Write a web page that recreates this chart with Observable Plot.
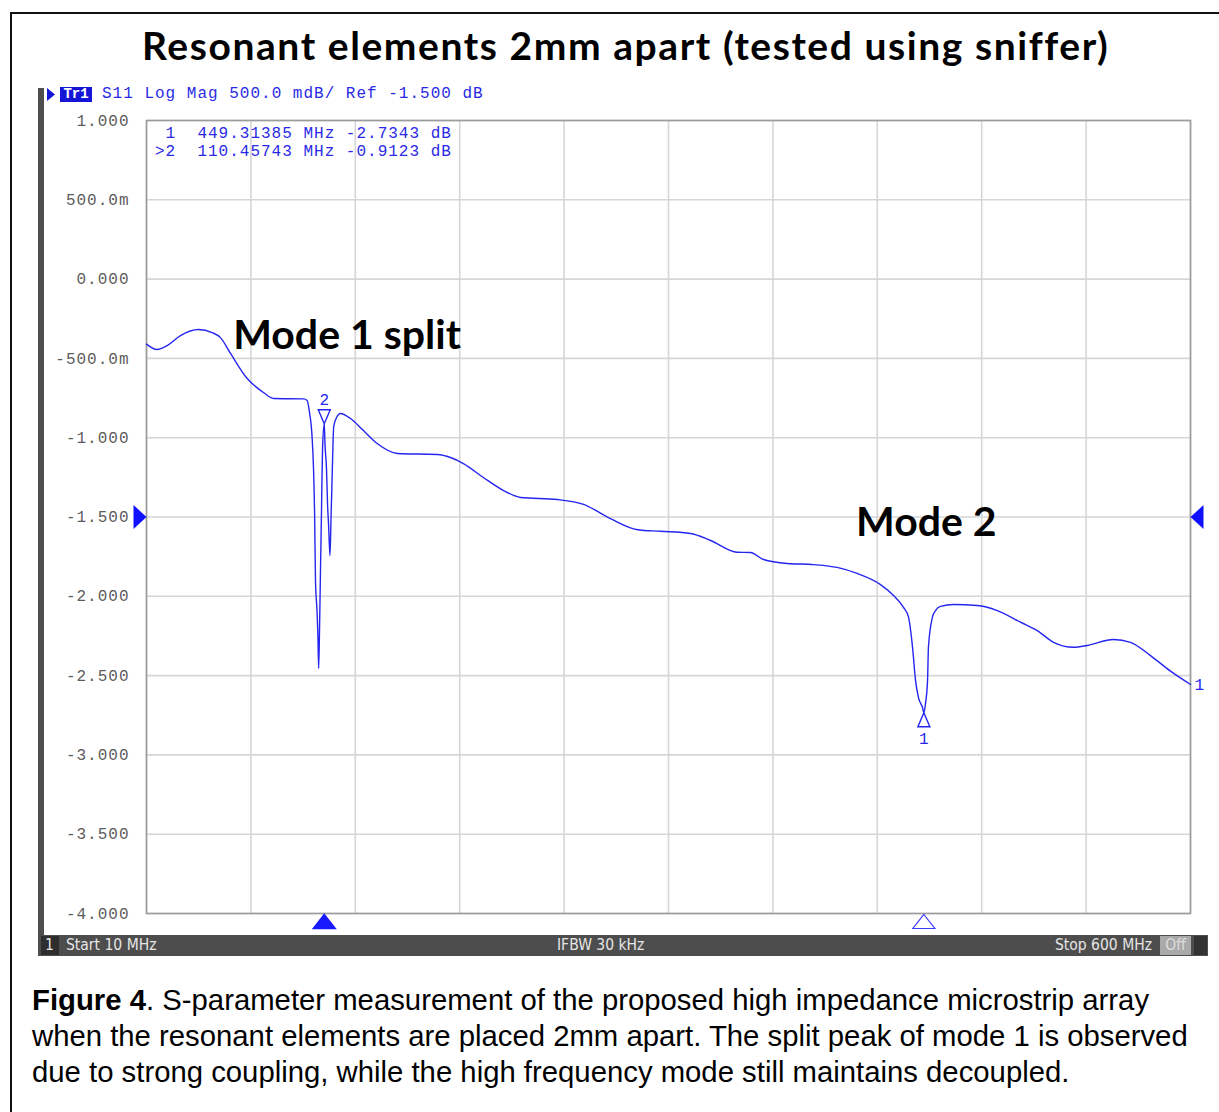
<!DOCTYPE html>
<html><head><meta charset="utf-8">
<script src="https://cdn.jsdelivr.net/npm/d3@7"></script>
<script src="https://cdn.jsdelivr.net/npm/@observablehq/plot@0.6"></script>
<style>
html,body{margin:0;padding:0;background:#fff;}
body{width:1219px;height:1112px;position:relative;overflow:hidden;}
.abs{position:absolute;white-space:pre;}
#border{position:absolute;left:10px;top:12px;width:1222px;height:1130px;border:2px solid #111;box-sizing:border-box;}
#title{left:142px;top:20px;font-family:Lato,"Open Sans",sans-serif;font-weight:700;font-size:39px;line-height:50px;color:#000;}
.mono{font-family:"Liberation Mono","DejaVu Sans Mono",monospace;font-size:16px;letter-spacing:1px;color:#2a2ae6;}
#hdr{left:102px;top:85px;line-height:18px;}
#tr1{left:60px;top:87px;width:32px;height:15px;background:#1515d8;color:#fff;font-family:"Liberation Mono",monospace;font-size:14px;font-weight:700;line-height:15px;text-align:center;}
#readout{left:155px;top:125px;line-height:18px;}
#leftbar{left:38px;top:88px;width:6px;height:868px;background:#4e4e4e;}
#status{left:40px;top:935px;width:1168px;height:21px;background:#4d4d4d;}
.st{font-family:"DejaVu Sans Condensed","Liberation Sans Narrow",sans-serif;font-stretch:condensed;font-size:15.5px;line-height:21px;color:#e6e6e6;top:935px;}
.cap{left:32px;font-family:"Liberation Sans",Arial,sans-serif;font-size:29.3px;line-height:36px;color:#000;}
#chart{position:absolute;left:0;top:0;}
g[aria-label="y-axis tick label"] text{letter-spacing:1px;}
</style></head>
<body>
<div id="border"></div>
<div id="chart"></div>
<div class="abs" id="title">Resonant elements 2mm apart (tested using sniffer)</div>
<div class="abs" id="leftbar"></div>
<svg class="abs" style="left:46px;top:87px" width="12" height="16"><path d="M1,1 L9,7.5 L1,14 Z" fill="#1515d8"/></svg>
<div class="abs" id="tr1">Tr1</div>
<div class="abs mono" id="hdr">S11 Log Mag 500.0 mdB/ Ref -1.500 dB</div>
<div class="abs mono" id="readout"></div>
<div class="abs" id="status"></div>
<div class="abs" style="left:41px;top:936px;width:18px;height:19px;background:#2e2e2e;"></div>
<div class="abs st" style="left:45px;">1</div>
<div class="abs st" style="left:66px;">Start 10 MHz</div>
<div class="abs st" style="left:557px;">IFBW 30 kHz</div>
<div class="abs st" id="stop" style="left:1048px;">Stop 600 MHz</div>
<div class="abs st" style="left:1160px;top:936px;width:31px;height:19px;line-height:19px;background:#a9a9a9;color:#dcdcdc;text-align:center;">Off</div>
<div class="abs" style="left:1194px;top:936px;width:13px;height:19px;background:#333;"></div>
<div class="abs cap" style="top:982px;"><b>Figure 4</b>. S-parameter measurement of the proposed high impedance microstrip array</div>
<div class="abs cap" style="top:1018px;">when the resonant elements are placed 2mm apart. The split peak of mode 1 is observed</div>
<div class="abs cap" style="top:1054px;">due to strong coupling, while the high frequency mode still maintains decoupled.</div>
<script>
// ---- data ----
const freqMHz = [10, 16.0, 21.7, 29.2, 39.4, 47.1, 51.8, 57.5, 66.9, 76.1, 81.8, 98.7, 100.8, 102.1, 103.6, 104.4, 105.0, 105.5, 106.4, 106.9, 107.3, 107.8, 108.3, 108.9, 109.5, 110.46, 110.9, 111.7, 112.3, 112.9, 113.7, 114.3, 114.9, 115.8, 117.4, 119.6, 125.3, 132.6, 140.4, 151.7, 174.3, 181.8, 189.1, 200.4, 211.8, 221.4, 242.3, 257.0, 272.2, 287.5, 300.5, 317.4, 328.8, 343.8, 351.3, 358.7, 372.1, 387.0, 400.3, 411.6, 424.8, 432.2, 437.8, 440.6, 442.9, 444.6, 446.3, 448.5, 449.31, 450.2, 451.4, 451.9, 454.2, 455.9, 458.7, 466.1, 479.5, 490.8, 503.9, 513.4, 522.6, 533.9, 541.6, 556.5, 566.1, 577.4, 588.7, 600];
const s11dB = [-0.41, -0.444, -0.419, -0.356, -0.318, -0.337, -0.369, -0.469, -0.627, -0.715, -0.753, -0.755, -0.765, -0.84, -1.0, -1.2, -1.48, -1.90, -2.10, -2.26, -2.455, -2.2, -1.856, -1.459, -1.062, -0.9123, -1.05, -1.188, -1.415, -1.55, -1.743, -1.5, -1.251, -0.93, -0.873, -0.847, -0.879, -0.955, -1.037, -1.10, -1.106, -1.125, -1.163, -1.251, -1.333, -1.377, -1.39, -1.42, -1.51, -1.58, -1.59, -1.604, -1.648, -1.722, -1.724, -1.768, -1.793, -1.80, -1.818, -1.856, -1.926, -1.995, -2.07, -2.13, -2.32, -2.53, -2.64, -2.70, -2.7343, -2.68, -2.53, -2.32, -2.13, -2.09, -2.064, -2.052, -2.058, -2.09, -2.163, -2.216, -2.29, -2.321, -2.31, -2.272, -2.29, -2.374, -2.472, -2.556];
const yTicks = [1, 0.5, 0, -0.5, -1, -1.5, -2, -2.5, -3, -3.5, -4];
const yTickLabels = ["1.000", "500.0m", "0.000", "-500.0m", "-1.000", "-1.500", "-2.000", "-2.500", "-3.000", "-3.500", "-4.000"];
const xGrid = [10, 69, 128, 187, 246, 305, 364, 423, 482, 541, 600];
const markerNames = ["1", "2"];
const markerFreq = [449.31385, 110.45743];
const markerDb = [-2.7343, -0.9123];
const refLevel = [-1.5];
const annotText = ["Mode 1 split", "Mode 2"];
const annotFreq = [59, 411];
const annotDb = [-0.36, -1.54];

document.getElementById("readout").textContent =
  markerNames.map((n, i) => (n === "2" ? ">" : " ") + n + "  " + markerFreq[i].toFixed(5) + " MHz " + markerDb[i].toFixed(4) + " dB").join("\n");

const trace = freqMHz.map((f, i) => ({f, db: s11dB[i]}));
const markers = markerNames.map((n, i) => ({n, f: markerFreq[i], db: markerDb[i]}));
const annots = annotText.map((t, i) => ({t, f: annotFreq[i], db: annotDb[i]}));
const BLUE = "#2525f0";
const sym = (pts) => ({draw(ctx) { ctx.moveTo(pts[0][0], pts[0][1]); for (const p of pts.slice(1)) ctx.lineTo(p[0], p[1]); ctx.closePath(); }});
const triDownTip = sym([[-6, -14], [6, -14], [0, 0]]);
const triUpTip = sym([[0, 0], [6, 14], [-6, 14]]);
const triBottom = sym([[0, 1], [11, 15], [-11, 15]]);
const refRight = sym([[-13, -12], [0, 0], [-13, 12]]);
const refLeft = sym([[13, -12], [0, 0], [13, 12]]);

const chart = Plot.plot({
  width: 1219, height: 960,
  marginLeft: 146, marginRight: 29, marginTop: 120, marginBottom: 47,
  x: {domain: [10, 600], axis: null, label: null},
  y: {domain: [-4, 1], axis: null, label: null},
  style: {fontFamily: "'Liberation Mono','DejaVu Sans Mono',monospace", fontSize: "16px", background: "transparent", overflow: "visible"},
  marks: [
    Plot.gridX(xGrid, {stroke: "#d6d6d6", strokeOpacity: 1, strokeWidth: 1.6}),
    Plot.gridY(yTicks, {stroke: "#d6d6d6", strokeOpacity: 1, strokeWidth: 1.6}),
    Plot.frame({stroke: "#9c9c9c", strokeWidth: 1.6}),
    Plot.axisY(yTicks, {label: null, tickSize: 0, tickPadding: 17, tickFormat: d => yTickLabels[yTicks.indexOf(d)], fill: "#5c5c5c"}),
    Plot.line(trace, {x: "f", y: "db", stroke: BLUE, strokeWidth: 1.4, curve: "monotone-x"}),
    Plot.dot(markers.filter(m => m.n === "2"), {x: "f", y: "db", symbol: triDownTip, fill: "none", stroke: BLUE, strokeWidth: 1.4}),
    Plot.dot(markers.filter(m => m.n === "1"), {x: "f", y: "db", symbol: triUpTip, fill: "none", stroke: BLUE, strokeWidth: 1.4}),
    Plot.text(markers.filter(m => m.n === "2"), {x: "f", y: "db", text: "n", dy: -24, fill: BLUE, fontSize: 16}),
    Plot.text(markers.filter(m => m.n === "1"), {x: "f", y: "db", text: "n", dy: 26, fill: BLUE, fontSize: 16}),
    Plot.text(trace.slice(-1), {x: "f", y: "db", text: () => "1", dx: 4, textAnchor: "start", fill: BLUE, fontSize: 16}),
    Plot.dot(markers.filter(m => m.n === "2"), {x: "f", frameAnchor: "bottom", symbol: triBottom, fill: "#1a1aff", stroke: "#1a1aff"}),
    Plot.dot(markers.filter(m => m.n === "1"), {x: "f", frameAnchor: "bottom", symbol: triBottom, fill: "white", stroke: "#3a3aff", strokeWidth: 1.2}),
    Plot.dot(refLevel, {y: d => d, frameAnchor: "left", symbol: refRight, fill: "#1010ff", stroke: "none"}),
    Plot.dot(refLevel, {y: d => d, frameAnchor: "right", symbol: refLeft, fill: "#1010ff", stroke: "none"}),
    Plot.text(annots, {x: "f", y: "db", text: "t", textAnchor: "start", fill: "#000", fontFamily: "Lato, 'Open Sans', sans-serif", fontWeight: 700, fontSize: 41})
  ]
});
document.getElementById("chart").appendChild(chart);

// fit widths to reference
function fit(el, target) {
  const w = el.getBoundingClientRect().width;
  el.style.letterSpacing = ((target - w) / el.textContent.length) + "px";
}
fit(document.getElementById("title"), 966);
const stop = document.getElementById("stop");
stop.style.left = (1152 - stop.getBoundingClientRect().width) + "px";
</script>
</body></html>
